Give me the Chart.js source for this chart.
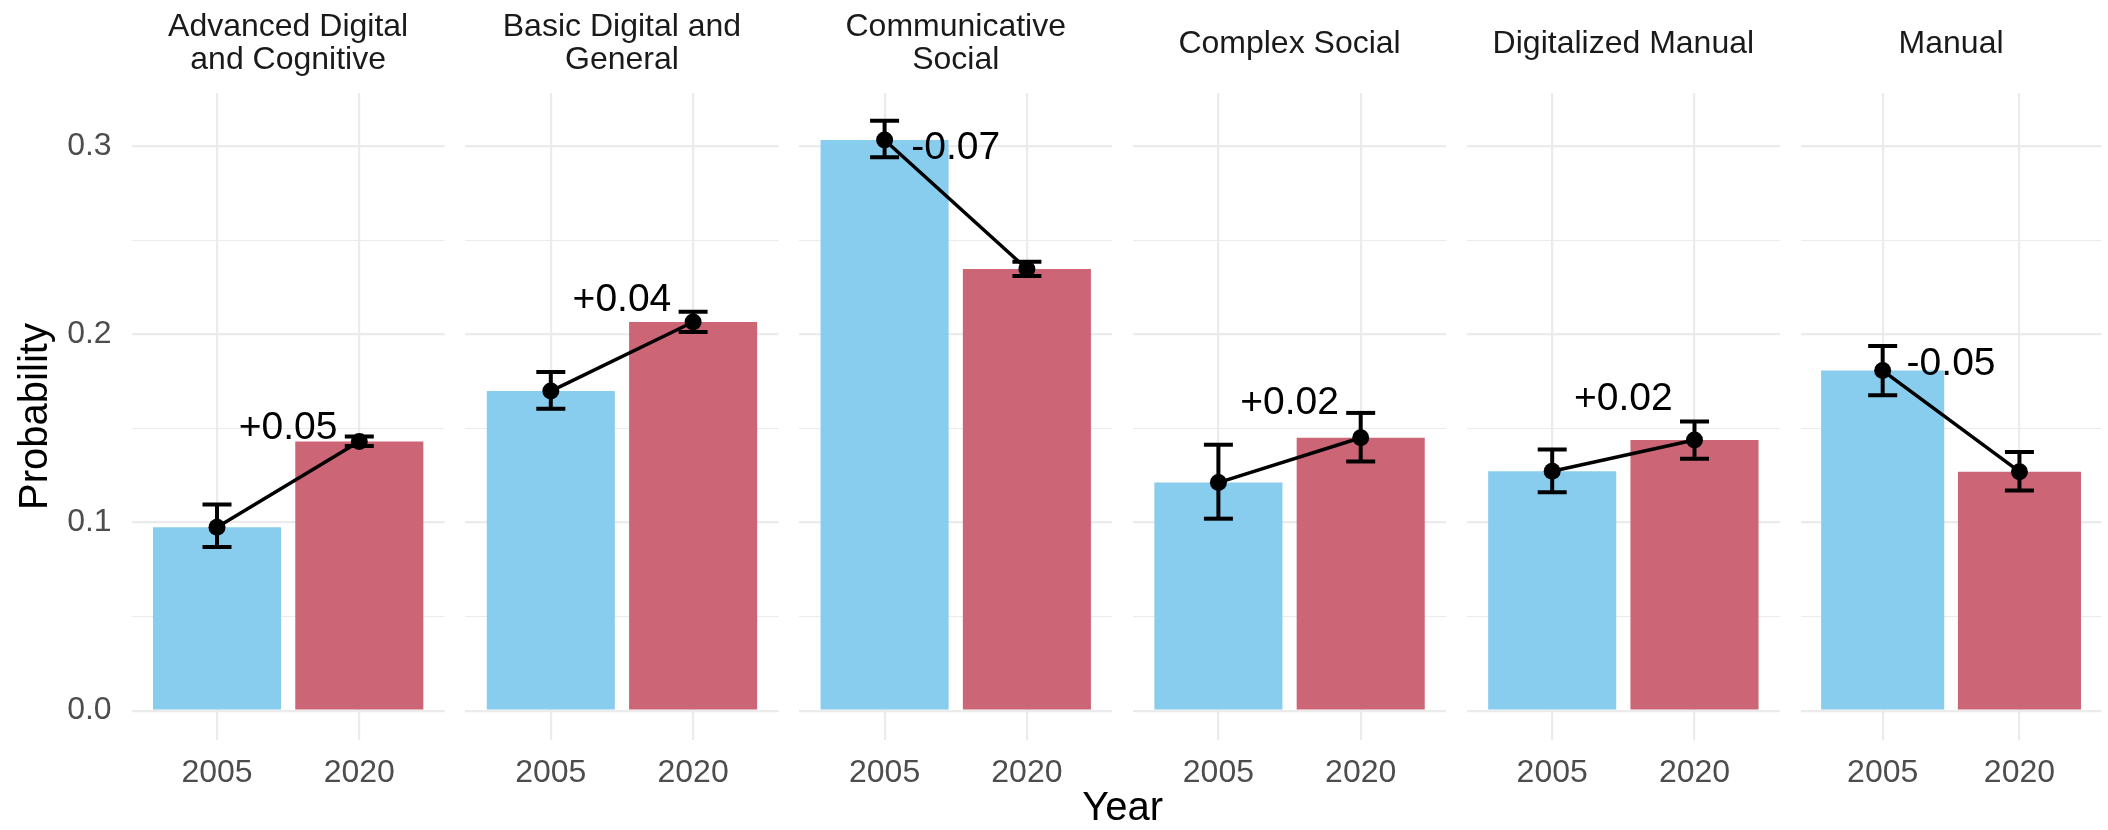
<!DOCTYPE html>
<html>
<head>
<meta charset="utf-8">
<script src="https://cdn.jsdelivr.net/npm/chart.js@4.4.1/dist/chart.umd.min.js"></script>
<style>
  body { margin: 0; background: #fff; }
  #wrap { position: relative; width: 2108px; height: 830px; overflow: hidden; background: #fff; }
  #wrap canvas { position: absolute; left: 0; top: 0; }
</style>
</head>
<body>
<div id="wrap"></div>
<script>
// facets (strip text, already wrapped like the original)
const categories = [
  ["Advanced Digital", "and Cognitive"],
  ["Basic Digital and", "General"],
  ["Communicative", "Social"],
  ["Complex Social"],
  ["Digitalized Manual"],
  ["Manual"],
];
const years = ["2005", "2020"];

// estimated probabilities + error bar ends
const prob2005 = [0.0975, 0.1698, 0.3032, 0.1212, 0.1272, 0.1807];
const prob2020 = [0.1430, 0.2065, 0.2347, 0.1450, 0.1438, 0.1270];
const low2005 = [0.0869, 0.1604, 0.2940, 0.1020, 0.1161, 0.1676];
const high2005 = [0.1096, 0.1799, 0.3135, 0.1413, 0.1387, 0.1938];
const low2020 = [0.1406, 0.2012, 0.2310, 0.1324, 0.1339, 0.1170];
const high2020 = [0.1457, 0.2119, 0.2385, 0.1582, 0.1537, 0.1374];
const changeLabels = ["+0.05", "+0.04", "-0.07", "+0.02", "+0.02", "-0.05"];

const yTickValues = [0, 0.1, 0.2, 0.3];
const yTickLabels = ["0.0", "0.1", "0.2", "0.3"];
const yMinorTicks = [0.05, 0.15, 0.25];

const FONT = "'Liberation Sans', Arial, Helvetica, sans-serif";
const BLUE = "#88CCEE";
const RED = "#CC6677";
const GRID = "#EBEBEB";

const W = 2120, H = 830;
const firstCenter = 217, panelStep = 333.8, unit = 142.3;
const plotTop = 93, plotBottom = 740;
const lineH = 33;

const panelLeft = (i) => firstCenter + panelStep * i - 0.6 * unit;
const panelRight = (i) => panelLeft(i) + 2.2 * unit;

const changeLabelPlugin = {
  id: "changeLabel",
  afterDatasetsDraw(chart, args, opts) {
    const { ctx, scales: { x, y } } = chart;
    const i = opts.panel;
    const mid = (prob2005[i] + prob2020[i]) / 2;
    ctx.save();
    ctx.font = "39px " + FONT;
    ctx.fillStyle = "#000";
    ctx.textAlign = "center";
    ctx.textBaseline = "middle";
    ctx.fillText(changeLabels[i], x.getPixelForValue(1.5), y.getPixelForValue(mid + 0.03));
    ctx.restore();
  },
};

// shared x title, centred under all panels
const yearTitlePlugin = {
  id: "yearTitle",
  afterDraw(chart) {
    const ctx = chart.ctx;
    ctx.save();
    ctx.font = "40px " + FONT;
    ctx.fillStyle = "#000";
    ctx.textAlign = "center";
    ctx.textBaseline = "middle";
    ctx.fillText("Year", (panelLeft(0) + panelRight(5)) / 2, chart.chartArea.bottom + 69);
    ctx.restore();
  },
};

const wrap = document.getElementById("wrap");

categories.forEach((title, i) => {
  const canvas = document.createElement("canvas");
  canvas.width = W;
  canvas.height = H;
  wrap.appendChild(canvas);

  const titleTop = 44 - (lineH / 2) * title.length;

  new Chart(canvas, {
    type: "bar",
    data: {
      datasets: [
        {
          type: "line",
          data: [{ x: 1, y: prob2005[i] }, { x: 2, y: prob2020[i] }],
          borderColor: "#000",
          borderWidth: 3.5,
          pointRadius: 8.5,
          pointBackgroundColor: "#000",
          pointBorderColor: "#000",
          pointBorderWidth: 0,
          order: 1,
        },
        {
          type: "line",
          data: [
            { x: 1, y: low2005[i] },
            { x: 1, y: high2005[i] },
            { x: 1.5, y: null },
            { x: 2, y: low2020[i] },
            { x: 2, y: high2020[i] },
          ],
          borderColor: "#000",
          borderWidth: 4,
          pointStyle: "line",
          pointRadius: 14.5,
          pointBorderColor: "#000",
          pointBorderWidth: 4,
          spanGaps: false,
          order: 2,
        },
        {
          type: "bar",
          data: [{ x: 1, y: prob2005[i] }, { x: 2, y: prob2020[i] }],
          backgroundColor: [BLUE, RED],
          borderWidth: 0,
          barPercentage: 0.9,
          categoryPercentage: 1,
          order: 3,
        },
      ],
    },
    options: {
      responsive: false,
      animation: false,
      events: [],
      layout: {
        padding: {
          left: i === 0 ? 0 : panelLeft(i),
          right: W - panelRight(i),
          top: 0,
          bottom: 0,
        },
      },
      scales: {
        x: {
          type: "linear",
          min: 0.4,
          max: 2.6,
          offset: false,
          afterBuildTicks: (s) => {
            s.ticks = years.map((_, k) => ({ value: k + 1 }));
          },
          afterFit: (s) => {
            s.height = H - plotBottom;
          },
          ticks: {
            callback: (v, k) => years[k],
            color: "#4D4D4D",
            font: { family: FONT, size: 32 },
            padding: 14,
            maxRotation: 0,
            autoSkip: false,
          },
          grid: { offset: false, color: GRID, lineWidth: 2.2, drawTicks: false },
          border: { display: false },
        },
        y: {
          min: -0.0156,
          max: 0.3282,
          afterBuildTicks: (s) => {
            s.ticks = [...yTickValues, ...yMinorTicks]
              .sort((a, b) => a - b)
              .map((v) => ({ value: v }));
          },
          afterFit: (s) => {
            s.width = i === 0 ? panelLeft(0) : 0;
          },
          ticks: {
            display: i === 0,
            callback: (v) => {
              const k = yTickValues.indexOf(v);
              return k >= 0 ? yTickLabels[k] : "";
            },
            color: "#4D4D4D",
            font: { family: FONT, size: 32 },
            padding: 20,
          },
          grid: {
            color: GRID,
            lineWidth: (c) => (yTickValues.includes(c.tick.value) ? 2.2 : 1.1),
            drawTicks: false,
          },
          border: { display: false },
          title: {
            display: i === 0,
            text: "Probability",
            color: "#000",
            font: { family: FONT, size: 40 },
            padding: { top: 12, bottom: 0 },
          },
        },
      },
      plugins: {
        legend: { display: false },
        tooltip: { enabled: false },
        title: {
          display: true,
          text: title,
          fullSize: false,
          color: "#1A1A1A",
          font: { family: FONT, size: 32, weight: "normal", lineHeight: lineH / 32 },
          padding: { top: titleTop, bottom: plotTop - titleTop - lineH * title.length },
        },
        changeLabel: { panel: i },
      },
    },
    plugins: i === 0 ? [changeLabelPlugin, yearTitlePlugin] : [changeLabelPlugin],
  });
});
</script>
</body>
</html>
